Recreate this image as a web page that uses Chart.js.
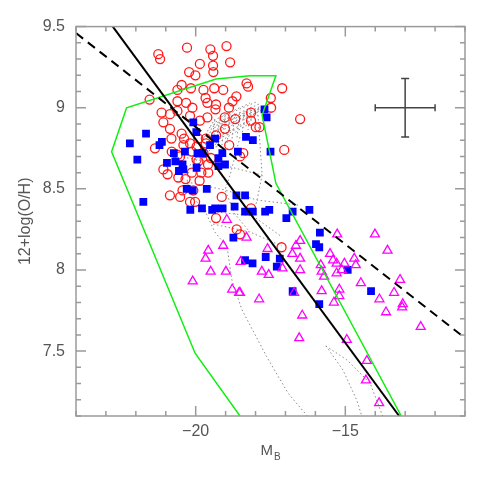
<!DOCTYPE html>
<html>
<head>
<meta charset="utf-8">
<script src="https://cdn.jsdelivr.net/npm/chart.js@4.4.1/dist/chart.umd.min.js"></script>
<style>
  html, body { margin: 0; padding: 0; background: #fff; }
  #wrap { width: 491px; height: 491px; }
</style>
</head>
<body>
<div id="wrap"><canvas id="chart" width="491" height="491"></canvas></div>
<script>
// axis ranges and tick labels
const xRange = [-24, -11];
const yRange = [7.1, 9.5];
const xLabels = [-20, -15];
const yLabels = [7.5, 8, 8.5, 9, 9.5];

// open red circles [M_B, 12+log(O/H)]
const circles = [
  [-21.25, 9.33], [-21.19, 9.30], [-20.29, 9.37], [-19.51, 9.36], [-19.42, 9.32],
  [-18.97, 9.38], [-19.86, 9.27], [-18.85, 9.28], [-20.22, 9.22], [-20.01, 9.20],
  [-19.42, 9.26], [-19.41, 9.22], [-20.47, 9.14], [-20.16, 9.12], [-20.61, 9.11],
  [-19.74, 9.11], [-19.38, 9.12], [-19.08, 9.11], [-18.64, 9.07], [-18.77, 9.04],
  [-21.54, 9.05], [-20.61, 9.04], [-20.32, 9.03], [-19.67, 9.06], [-19.61, 9.03],
  [-19.32, 9.02], [-19.34, 8.99], [-20.11, 9.00], [-18.89, 9.00], [-18.30, 9.15],
  [-18.25, 9.13], [-21.14, 8.97], [-20.86, 8.96], [-20.61, 8.98], [-20.19, 8.95],
  [-21.08, 8.91], [-19.86, 8.92], [-19.61, 8.94], [-19.03, 8.94], [-18.68, 8.93],
  [-20.86, 8.87], [-19.02, 8.87], [-20.81, 8.81], [-20.47, 8.84], [-20.39, 8.81],
  [-19.91, 8.81], [-19.66, 8.81], [-19.32, 8.83], [-18.88, 8.77], [-21.36, 8.75],
  [-20.41, 8.77], [-20.19, 8.78], [-19.97, 8.76], [-20.13, 8.73], [-18.41, 8.72],
  [-20.52, 8.70], [-20.80, 8.73], [-19.97, 8.68], [-19.49, 8.69], [-19.59, 8.65],
  [-21.08, 8.62], [-20.94, 8.59], [-20.13, 8.60], [-19.81, 8.60], [-19.58, 8.60],
  [-20.58, 8.57], [-20.34, 8.56], [-19.87, 8.55], [-20.86, 8.46], [-20.44, 8.49],
  [-20.52, 8.45], [-20.08, 8.49], [-20.19, 8.42], [-20.02, 8.42], [-19.13, 8.45],
  [-19.32, 8.32], [-18.63, 8.25], [-18.52, 8.22], [-17.11, 9.12], [-17.49, 9.06],
  [-17.48, 9.00], [-16.51, 8.93], [-18.15, 8.97], [-18.15, 8.92], [-17.99, 8.88],
  [-17.87, 8.88], [-17.04, 8.74], [-18.52, 8.70], [-18.15, 8.38], [-17.13, 8.14],
  [-19.91, 8.67], [-19.66, 8.78], [-20.60, 8.71], [-19.74, 8.72]
];

// filled blue squares
const squares = [
  [-22.20, 8.78], [-21.66, 8.84], [-21.21, 8.77], [-21.13, 8.79], [-21.95, 8.68],
  [-21.75, 8.42], [-20.96, 8.66], [-20.68, 8.67], [-20.73, 8.72], [-20.44, 8.65],
  [-20.41, 8.62], [-20.56, 8.61], [-20.36, 8.73], [-19.97, 8.63], [-19.94, 8.72],
  [-19.77, 8.72], [-19.52, 8.77], [-19.35, 8.81], [-20.08, 8.91], [-19.98, 8.85],
  [-19.24, 8.69], [-19.24, 8.64], [-19.02, 8.65], [-18.59, 8.73], [-18.32, 8.82],
  [-18.09, 8.80], [-20.30, 8.50], [-20.10, 8.49], [-19.63, 8.50], [-20.18, 8.37],
  [-19.79, 8.38], [-19.45, 8.37], [-19.35, 8.38], [-19.10, 8.38], [-18.70, 8.39],
  [-18.64, 8.46], [-18.35, 8.46], [-18.35, 8.36], [-18.09, 8.36], [-18.74, 8.20],
  [-17.70, 8.99], [-17.63, 8.94], [-17.50, 8.73], [-17.68, 8.36], [-17.54, 8.37],
  [-16.76, 8.36], [-16.97, 8.32], [-16.20, 8.37], [-15.85, 8.23], [-15.98, 8.16],
  [-15.87, 8.14], [-18.35, 8.06], [-18.10, 8.04], [-17.66, 8.08], [-17.29, 8.02],
  [-17.19, 8.07], [-16.76, 7.87], [-15.87, 7.79], [-14.92, 8.00], [-14.14, 7.87],
  [-19.11, 8.72]
];

// open magenta triangles
const triangles = [
  [-18.96, 8.31], [-19.08, 8.15], [-19.58, 8.12], [-18.30, 8.20], [-19.67, 8.07],
  [-19.50, 7.99], [-20.10, 7.93], [-18.99, 7.99], [-18.50, 8.05], [-18.78, 7.88],
  [-18.55, 7.86], [-16.51, 8.18], [-16.65, 8.15], [-17.60, 8.13], [-15.27, 8.22],
  [-14.01, 8.22], [-13.59, 8.12], [-16.77, 8.10], [-16.51, 8.07], [-17.79, 7.99],
  [-17.56, 7.97], [-17.10, 8.01], [-16.51, 8.00], [-18.52, 7.86], [-17.88, 7.82],
  [-16.71, 7.86], [-16.44, 7.72], [-16.54, 7.58], [-15.51, 8.10], [-15.82, 8.03],
  [-15.41, 8.06], [-15.29, 8.04], [-15.03, 8.04], [-14.70, 8.07], [-14.65, 8.03],
  [-15.79, 7.99], [-15.71, 7.96], [-15.29, 7.98], [-15.12, 8.00], [-15.79, 7.87],
  [-15.20, 7.88], [-15.20, 7.84], [-15.38, 7.80], [-14.48, 7.92], [-13.86, 7.82],
  [-13.37, 7.86], [-13.17, 7.94], [-13.64, 7.74], [-13.08, 7.79], [-13.10, 7.77],
  [-12.48, 7.65], [-14.95, 7.57], [-14.28, 7.44], [-14.31, 7.32], [-13.87, 7.18]
];

// fits
const solidFit = [[-22.77, 9.5], [-13.2, 7.1]];
const dashedFit = [[-24, 9.46], [-11, 7.58]];

// green envelope
const envelope = [
  [-18.52, 7.1], [-20.02, 7.487], [-22.81, 8.729], [-22.31, 9.0], [-19.32, 9.177],
  [-18.19, 9.197], [-17.32, 9.197], [-17.78, 8.955], [-17.32, 8.534], [-13.13, 7.1]
];

// dotted model tracks
const tracks = [
  [[-19.76, 8.801], [-17.78, 8.986]],
  [[-19.66, 8.838], [-17.78, 8.986]],
  [[-19.56, 8.875], [-17.82, 8.992]],
  [[-19.46, 8.906], [-17.85, 8.998]],
  [[-19.69, 8.770], [-17.92, 8.955]],
  [[-19.59, 8.746], [-18.12, 8.912]],
  [[-19.72, 8.819], [-17.78, 9.004]],
  [[-19.62, 8.856], [-17.82, 9.010]],
  [[-19.52, 8.887], [-17.88, 9.023]],
  [[-19.39, 8.924], [-17.98, 9.035]],
  [[-19.19, 8.943], [-18.19, 9.029]],
  [[-19.66, 8.758], [-18.02, 8.937]],
  [[-19.36, 8.924], [-19.52, 8.739]],
  [[-19.19, 8.936], [-19.32, 8.751]],
  [[-19.02, 8.949], [-19.12, 8.770]],
  [[-18.85, 8.961], [-18.95, 8.783]],
  [[-18.69, 8.967], [-18.79, 8.801]],
  [[-18.52, 8.973], [-18.62, 8.813]],
  [[-18.35, 8.980], [-18.45, 8.834]],
  [[-18.18, 8.992], [-18.25, 8.863]],
  [[-20.42, 8.696], [-19.36, 8.659], [-17.78, 8.585]],
  [[-20.29, 8.542], [-19.02, 8.493], [-17.95, 8.431], [-16.58, 8.400]],
  [[-19.69, 8.364], [-18.69, 8.345], [-18.09, 8.333], [-17.12, 8.204]],
  [[-19.42, 8.283], [-18.19, 8.234], [-17.12, 8.148]],
  [[-19.52, 8.739], [-20.19, 8.647], [-20.29, 8.542], [-20.02, 8.431], [-19.69, 8.364],
   [-19.36, 8.234], [-18.95, 8.142], [-18.79, 7.938], [-18.46, 7.757], [-17.63, 7.466],
   [-16.91, 7.240], [-16.27, 7.100]],
  [[-18.52, 8.819], [-18.85, 8.585], [-19.02, 8.493], [-18.69, 8.345], [-18.19, 8.234]],
  [[-17.92, 8.955], [-17.78, 8.585], [-17.95, 8.431], [-18.09, 8.333]],
  [[-15.65, 7.532], [-15.08, 7.384], [-14.62, 7.199], [-14.45, 7.100]],
  [[-15.65, 7.532], [-14.95, 7.446], [-14.17, 7.302], [-13.75, 7.100]]
];

// typical error bar
const errCenter = [-13, 9.0];
const errSize = [1.0, 0.18];

const toXY = arr => arr.map(p => ({ x: p[0], y: p[1] }));

const lineSet = (pts, color, width, dash) => ({
    data: toXY(pts),
    showLine: true,
    borderColor: color,
    borderWidth: width,
    borderDash: dash || [],
    pointRadius: 0,
    fill: false
});

const datasets = [
    lineSet(dashedFit, '#000', 2, [9, 6]),
    lineSet(solidFit, '#000', 2),
    lineSet(envelope, '#11ee11', 1.5),
    {
        data: toXY(triangles), pointStyle: 'triangle', pointRadius: 5.2,
        borderColor: '#ff00ff', backgroundColor: 'rgba(0,0,0,0)', borderWidth: 1.3
    },
    {
        data: toXY(squares), pointStyle: 'rect', pointRadius: 5.5,
        borderColor: '#0000ff', backgroundColor: '#0000ff', borderWidth: 0
    },
    {
        data: toXY(circles), pointStyle: 'circle', pointRadius: 4.5,
        borderColor: '#ff1a1a', backgroundColor: 'rgba(0,0,0,0)', borderWidth: 1.3
    }
];
tracks.forEach(t => datasets.push(lineSet(t, '#8a8a8a', 1, [1.5, 2.5])));

const isMajor = (v, step) => Math.abs(v / step - Math.round(v / step)) < 1e-6;

// frame with inward ticks, error bar, and M_B axis label
const framePlugin = {
    id: 'frame',
    afterDatasetsDraw(chart) {
        const { ctx, chartArea: a, scales: { x, y } } = chart;
        ctx.save();

        // error bar
        const cx = x.getPixelForValue(errCenter[0]);
        const cy = y.getPixelForValue(errCenter[1]);
        const x0 = x.getPixelForValue(errCenter[0] - errSize[0]);
        const x1 = x.getPixelForValue(errCenter[0] + errSize[0]);
        const y0 = y.getPixelForValue(errCenter[1] - errSize[1]);
        const y1 = y.getPixelForValue(errCenter[1] + errSize[1]);
        ctx.strokeStyle = '#444';
        ctx.lineWidth = 1.5;
        ctx.beginPath();
        ctx.moveTo(x0, cy); ctx.lineTo(x1, cy);
        ctx.moveTo(cx, y0); ctx.lineTo(cx, y1);
        ctx.moveTo(x0, cy - 3.5); ctx.lineTo(x0, cy + 3.5);
        ctx.moveTo(x1, cy - 3.5); ctx.lineTo(x1, cy + 3.5);
        ctx.moveTo(cx - 4, y0); ctx.lineTo(cx + 4, y0);
        ctx.moveTo(cx - 4, y1); ctx.lineTo(cx + 4, y1);
        ctx.stroke();

        // frame
        ctx.strokeStyle = '#9a9a9a';
        ctx.lineWidth = 1.5;
        ctx.strokeRect(a.left, a.top, a.right - a.left, a.bottom - a.top);

        ctx.beginPath();
        x.ticks.forEach(t => {
            const px = x.getPixelForValue(t.value);
            const len = isMajor(t.value, 5) ? 10 : 5;
            ctx.moveTo(px, a.bottom); ctx.lineTo(px, a.bottom - len);
            ctx.moveTo(px, a.top); ctx.lineTo(px, a.top + len);
        });
        y.ticks.forEach(t => {
            const py = y.getPixelForValue(t.value);
            const len = isMajor(t.value, 0.5) ? 10 : 5;
            ctx.moveTo(a.left, py); ctx.lineTo(a.left + len, py);
            ctx.moveTo(a.right, py); ctx.lineTo(a.right - len, py);
        });
        ctx.stroke();

        // x axis title with subscript
        const mid = (a.left + a.right) / 2;
        ctx.fillStyle = '#555';
        ctx.textBaseline = 'alphabetic';
        ctx.font = '15px "Liberation Sans", sans-serif';
        const mw = ctx.measureText('M').width;
        ctx.font = '10px "Liberation Sans", sans-serif';
        const bw = ctx.measureText('B').width;
        const start = mid - (mw + bw + 1) / 2;
        ctx.font = '15px "Liberation Sans", sans-serif';
        ctx.fillText('M', start, 455);
        ctx.font = '10px "Liberation Sans", sans-serif';
        ctx.fillText('B', start + mw + 1, 460);
        ctx.restore();
    }
};

new Chart(document.getElementById('chart'), {
    type: 'scatter',
    data: { datasets },
    options: {
        responsive: false,
        animation: false,
        events: [],
        layout: { padding: { left: 0, right: 26, top: 26.6, bottom: 0 } },
        plugins: { legend: { display: false }, tooltip: { enabled: false } },
        scales: {
            x: {
                type: 'linear',
                min: xRange[0], max: xRange[1],
                grid: { display: false, drawTicks: false },
                border: { display: false },
                afterFit: s => { s.height = 75; },
                ticks: {
                    stepSize: 1, autoSkip: false, maxRotation: 0, padding: 6,
                    color: '#555', font: { family: '"Liberation Sans", sans-serif', size: 16 },
                    callback: v => xLabels.includes(v) ? '\u2212' + Math.abs(v) : ''
                }
            },
            y: {
                type: 'linear',
                min: yRange[0], max: yRange[1],
                grid: { display: false, drawTicks: false },
                border: { display: false },
                afterFit: s => { s.width = 76; },
                title: {
                    display: true, text: '12+log(O/H)', color: '#555',
                    font: { family: '"Liberation Sans", sans-serif', size: 16 },
                    padding: { top: 16, bottom: 0 }
                },
                ticks: {
                    stepSize: 0.1, autoSkip: false, padding: 11,
                    color: '#555', font: { family: '"Liberation Sans", sans-serif', size: 16 },
                    callback: v => yLabels.some(l => Math.abs(l - v) < 1e-6) ? String(+v.toFixed(1)) : ''
                }
            }
        }
    },
    plugins: [framePlugin]
});
</script>
</body>
</html>
